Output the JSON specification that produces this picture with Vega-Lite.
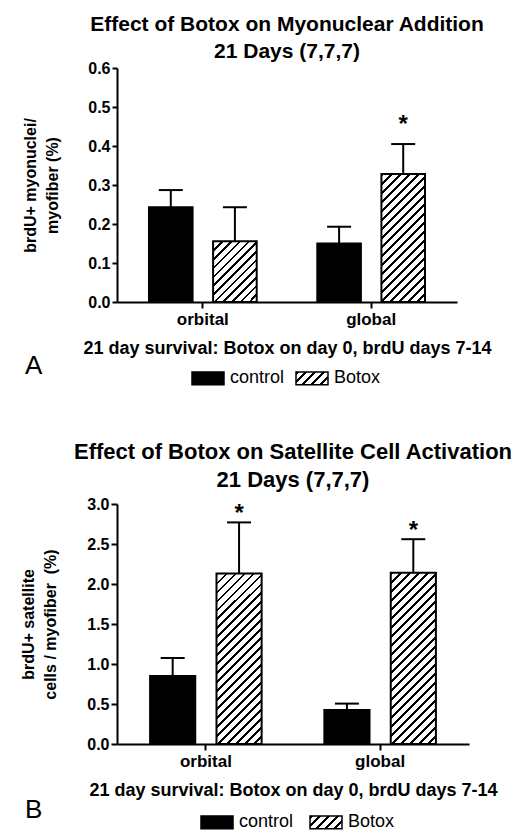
{
  "$schema": "https://vega.github.io/schema/vega-lite/v6.json",
  "background": "white",
  "padding": {"left": 20, "top": 14, "right": 5, "bottom": 5},
  "spacing": 53,
  "columns": 1,
  "align": "none",
  "datasets": {
    "a": [
      {"cat": "orbital", "group": "control", "mean": 0.243, "upper": 0.287, "sig": ""},
      {"cat": "orbital", "group": "Botox", "mean": 0.156, "upper": 0.243, "sig": ""},
      {"cat": "global", "group": "control", "mean": 0.150, "upper": 0.193, "sig": ""},
      {"cat": "global", "group": "Botox", "mean": 0.328, "upper": 0.405, "sig": "*"}
    ],
    "b": [
      {"cat": "orbital", "group": "control", "mean": 0.85, "upper": 1.075, "sig": ""},
      {"cat": "orbital", "group": "Botox", "mean": 2.13, "upper": 2.77, "sig": "*"},
      {"cat": "global", "group": "control", "mean": 0.425, "upper": 0.505, "sig": ""},
      {"cat": "global", "group": "Botox", "mean": 2.14, "upper": 2.56, "sig": "*"}
    ]
  },
  "resolve": {
    "scale": {"color": "independent", "x": "independent", "y": "independent", "xOffset": "independent"},
    "legend": {"color": "independent"}
  },
  "concat": [
    {
      "data": {"name": "a"},
      "width": 340,
      "height": 234,
      "title": {"text": ["Effect of Botox on Myonuclear Addition", "21 Days (7,7,7)"], "offset": -2},
      "encoding": {
        "x": {"field": "cat", "type": "nominal", "scale": {"domain": ["orbital", "global"], "paddingInner": 0.36, "paddingOuter": 0.19}, "axis": {"title": "21 day survival: Botox on day 0, brdU days 7-14", "labelAngle": 0}},
        "xOffset": {"field": "group", "type": "nominal", "scale": {"domain": ["control", "Botox"], "paddingInner": 0.32, "paddingOuter": 0}}
      },
      "layer": [
        {
          "transform": [{"filter": "datum.group === 'control'"}],
          "mark": {"type": "bar", "stroke": "black", "strokeWidth": 2},
          "encoding": {
            "y": {"field": "mean", "type": "quantitative", "scale": {"domain": [0, 0.6], "nice": false}, "axis": {"values": [0, 0.1, 0.2, 0.3, 0.4, 0.5, 0.6], "tickCount": 10, "format": ".1f", "labelOverlap": false, "titlePadding": 27, "title": ["brdU+ myonuclei/", "myofiber (%)"]}},
            "color": {"field": "group", "type": "nominal", "scale": {"domain": ["control", "Botox"], "range": ["black", {"expr": "{gradient: 'linear', x1: 0, y1: 0, x2: 1.2069, y2: 0.4828, stops: [{offset: 0, color: '#000'}, {offset: 0.07, color: '#000'}, {offset: 0.07, color: '#fff'}, {offset: 0.2, color: '#fff'}, {offset: 0.2, color: '#000'}, {offset: 0.27, color: '#000'}, {offset: 0.27, color: '#fff'}, {offset: 0.4, color: '#fff'}, {offset: 0.4, color: '#000'}, {offset: 0.47, color: '#000'}, {offset: 0.47, color: '#fff'}, {offset: 0.6, color: '#fff'}, {offset: 0.6, color: '#000'}, {offset: 0.67, color: '#000'}, {offset: 0.67, color: '#fff'}, {offset: 0.8, color: '#fff'}, {offset: 0.8, color: '#000'}, {offset: 0.87, color: '#000'}, {offset: 0.87, color: '#fff'}, {offset: 1, color: '#fff'}]}"}]},
              "legend": {"title": "A", "legendX": -92, "legendY": 293, "titlePadding": 148, "columnPadding": 8,
                "encode": {"symbols": {"stroke": {"value": "black"}, "strokeWidth": {"value": 1.5}}}}}
          }
        },
        {
          "transform": [{"filter": "datum.group === 'Botox' && datum.cat === 'orbital'"}],
          "mark": {"type": "bar", "stroke": "black", "strokeWidth": 2, "fill": {"gradient": "linear", "x1": 0, "y1": 0, "x2": 0.813, "y2": 1.134, "stops": [
            {"offset": 0, "color": "#000"}, {"offset": 0.025, "color": "#000"}, {"offset": 0.025, "color": "#fff"}, {"offset": 0.0833, "color": "#fff"},
            {"offset": 0.0833, "color": "#000"}, {"offset": 0.1083, "color": "#000"}, {"offset": 0.1083, "color": "#fff"}, {"offset": 0.1667, "color": "#fff"},
            {"offset": 0.1667, "color": "#000"}, {"offset": 0.1917, "color": "#000"}, {"offset": 0.1917, "color": "#fff"}, {"offset": 0.25, "color": "#fff"},
            {"offset": 0.25, "color": "#000"}, {"offset": 0.275, "color": "#000"}, {"offset": 0.275, "color": "#fff"}, {"offset": 0.3333, "color": "#fff"},
            {"offset": 0.3333, "color": "#000"}, {"offset": 0.3583, "color": "#000"}, {"offset": 0.3583, "color": "#fff"}, {"offset": 0.4167, "color": "#fff"},
            {"offset": 0.4167, "color": "#000"}, {"offset": 0.4417, "color": "#000"}, {"offset": 0.4417, "color": "#fff"}, {"offset": 0.5, "color": "#fff"},
            {"offset": 0.5, "color": "#000"}, {"offset": 0.525, "color": "#000"}, {"offset": 0.525, "color": "#fff"}, {"offset": 0.5833, "color": "#fff"},
            {"offset": 0.5833, "color": "#000"}, {"offset": 0.6083, "color": "#000"}, {"offset": 0.6083, "color": "#fff"}, {"offset": 0.6667, "color": "#fff"},
            {"offset": 0.6667, "color": "#000"}, {"offset": 0.6917, "color": "#000"}, {"offset": 0.6917, "color": "#fff"}, {"offset": 0.75, "color": "#fff"},
            {"offset": 0.75, "color": "#000"}, {"offset": 0.775, "color": "#000"}, {"offset": 0.775, "color": "#fff"}, {"offset": 0.8333, "color": "#fff"},
            {"offset": 0.8333, "color": "#000"}, {"offset": 0.8583, "color": "#000"}, {"offset": 0.8583, "color": "#fff"}, {"offset": 0.9167, "color": "#fff"},
            {"offset": 0.9167, "color": "#000"}, {"offset": 0.9417, "color": "#000"}, {"offset": 0.9417, "color": "#fff"}, {"offset": 1, "color": "#fff"}]}},
          "encoding": {"y": {"field": "mean", "type": "quantitative"}}
        },
        {
          "transform": [{"filter": "datum.group === 'Botox' && datum.cat === 'global'"}],
          "mark": {"type": "bar", "stroke": "black", "strokeWidth": 2, "fill": {"gradient": "linear", "x1": 0, "y1": 0, "x2": 0.4096, "y2": 1.201, "stops": [
            {"offset": 0, "color": "#000"}, {"offset": 0.0158, "color": "#000"}, {"offset": 0.0158, "color": "#fff"}, {"offset": 0.0526, "color": "#fff"},
            {"offset": 0.0526, "color": "#000"}, {"offset": 0.0684, "color": "#000"}, {"offset": 0.0684, "color": "#fff"}, {"offset": 0.1053, "color": "#fff"},
            {"offset": 0.1053, "color": "#000"}, {"offset": 0.1211, "color": "#000"}, {"offset": 0.1211, "color": "#fff"}, {"offset": 0.1579, "color": "#fff"},
            {"offset": 0.1579, "color": "#000"}, {"offset": 0.1737, "color": "#000"}, {"offset": 0.1737, "color": "#fff"}, {"offset": 0.2105, "color": "#fff"},
            {"offset": 0.2105, "color": "#000"}, {"offset": 0.2263, "color": "#000"}, {"offset": 0.2263, "color": "#fff"}, {"offset": 0.2632, "color": "#fff"},
            {"offset": 0.2632, "color": "#000"}, {"offset": 0.2789, "color": "#000"}, {"offset": 0.2789, "color": "#fff"}, {"offset": 0.3158, "color": "#fff"},
            {"offset": 0.3158, "color": "#000"}, {"offset": 0.3316, "color": "#000"}, {"offset": 0.3316, "color": "#fff"}, {"offset": 0.3684, "color": "#fff"},
            {"offset": 0.3684, "color": "#000"}, {"offset": 0.3842, "color": "#000"}, {"offset": 0.3842, "color": "#fff"}, {"offset": 0.4211, "color": "#fff"},
            {"offset": 0.4211, "color": "#000"}, {"offset": 0.4368, "color": "#000"}, {"offset": 0.4368, "color": "#fff"}, {"offset": 0.4737, "color": "#fff"},
            {"offset": 0.4737, "color": "#000"}, {"offset": 0.4895, "color": "#000"}, {"offset": 0.4895, "color": "#fff"}, {"offset": 0.5263, "color": "#fff"},
            {"offset": 0.5263, "color": "#000"}, {"offset": 0.5421, "color": "#000"}, {"offset": 0.5421, "color": "#fff"}, {"offset": 0.5789, "color": "#fff"},
            {"offset": 0.5789, "color": "#000"}, {"offset": 0.5947, "color": "#000"}, {"offset": 0.5947, "color": "#fff"}, {"offset": 0.6316, "color": "#fff"},
            {"offset": 0.6316, "color": "#000"}, {"offset": 0.6474, "color": "#000"}, {"offset": 0.6474, "color": "#fff"}, {"offset": 0.6842, "color": "#fff"},
            {"offset": 0.6842, "color": "#000"}, {"offset": 0.7, "color": "#000"}, {"offset": 0.7, "color": "#fff"}, {"offset": 0.7368, "color": "#fff"},
            {"offset": 0.7368, "color": "#000"}, {"offset": 0.7526, "color": "#000"}, {"offset": 0.7526, "color": "#fff"}, {"offset": 0.7895, "color": "#fff"},
            {"offset": 0.7895, "color": "#000"}, {"offset": 0.8053, "color": "#000"}, {"offset": 0.8053, "color": "#fff"}, {"offset": 0.8421, "color": "#fff"},
            {"offset": 0.8421, "color": "#000"}, {"offset": 0.8579, "color": "#000"}, {"offset": 0.8579, "color": "#fff"}, {"offset": 0.8947, "color": "#fff"},
            {"offset": 0.8947, "color": "#000"}, {"offset": 0.9105, "color": "#000"}, {"offset": 0.9105, "color": "#fff"}, {"offset": 0.9474, "color": "#fff"},
            {"offset": 0.9474, "color": "#000"}, {"offset": 0.9632, "color": "#000"}, {"offset": 0.9632, "color": "#fff"}, {"offset": 1, "color": "#fff"}]}},
          "encoding": {"y": {"field": "mean", "type": "quantitative"}}
        },
        {
          "mark": {"type": "rule", "color": "black", "strokeWidth": 2},
          "encoding": {"y": {"field": "mean", "type": "quantitative"}, "y2": {"field": "upper"}}
        },
        {
          "mark": {"type": "tick", "color": "black", "thickness": 2, "size": 24, "opacity": 1},
          "encoding": {"y": {"field": "upper", "type": "quantitative"}}
        },
        {
          "mark": {"type": "text", "fontSize": 24, "fontWeight": "bold", "baseline": "bottom", "dy": -7, "color": "black", "font": "Liberation Sans"},
          "encoding": {"y": {"field": "upper", "type": "quantitative"}, "text": {"field": "sig"}}
        }
      ]
    },
    {
      "data": {"name": "b"},
      "width": 352,
      "height": 240,
      "title": {"text": ["Effect of Botox on Satellite Cell Activation", "21 Days (7,7,7)"], "fontSize": 22, "lineHeight": 28, "offset": 4},
      "encoding": {
        "x": {"field": "cat", "type": "nominal", "scale": {"domain": ["orbital", "global"], "paddingInner": 0.36, "paddingOuter": 0.19}, "axis": {"title": "21 day survival: Botox on day 0, brdU days 7-14", "labelAngle": 0}},
        "xOffset": {"field": "group", "type": "nominal", "scale": {"domain": ["control", "Botox"], "paddingInner": 0.32, "paddingOuter": 0}}
      },
      "layer": [
        {
          "transform": [{"filter": "datum.group === 'control'"}],
          "mark": {"type": "bar", "stroke": "black", "strokeWidth": 2},
          "encoding": {
            "y": {"field": "mean", "type": "quantitative", "scale": {"domain": [0, 3], "nice": false}, "axis": {"values": [0, 0.5, 1, 1.5, 2, 2.5, 3], "tickCount": 10, "format": ".1f", "labelOverlap": false, "tickSize": 6, "titlePadding": 28, "title": ["brdU+ satellite", "cells / myofiber \u00a0(%)"]}},
            "color": {"field": "group", "type": "nominal", "scale": {"domain": ["control", "Botox"], "range": ["black", {"expr": "{gradient: 'linear', x1: 0, y1: 0, x2: 1.2069, y2: 0.4828, stops: [{offset: 0, color: '#000'}, {offset: 0.07, color: '#000'}, {offset: 0.07, color: '#fff'}, {offset: 0.2, color: '#fff'}, {offset: 0.2, color: '#000'}, {offset: 0.27, color: '#000'}, {offset: 0.27, color: '#fff'}, {offset: 0.4, color: '#fff'}, {offset: 0.4, color: '#000'}, {offset: 0.47, color: '#000'}, {offset: 0.47, color: '#fff'}, {offset: 0.6, color: '#fff'}, {offset: 0.6, color: '#000'}, {offset: 0.67, color: '#000'}, {offset: 0.67, color: '#fff'}, {offset: 0.8, color: '#fff'}, {offset: 0.8, color: '#000'}, {offset: 0.87, color: '#000'}, {offset: 0.87, color: '#fff'}, {offset: 1, color: '#fff'}]}"}]},
              "legend": {"title": "B", "legendX": -92, "legendY": 301, "titlePadding": 157, "columnPadding": 13,
                "encode": {"symbols": {"stroke": {"value": "black"}, "strokeWidth": {"value": 1.5}}}}}
          }
        },
        {
          "transform": [{"filter": "datum.group === 'Botox'"}],
          "mark": {"type": "bar", "stroke": "black", "strokeWidth": 2, "fill": {"gradient": "linear", "x1": 0, "y1": 0, "x2": 0.3128, "y2": 1.1819, "stops": [
            {"offset": 0, "color": "#000"}, {"offset": 0.0125, "color": "#000"}, {"offset": 0.0125, "color": "#fff"}, {"offset": 0.0417, "color": "#fff"},
            {"offset": 0.0417, "color": "#000"}, {"offset": 0.0542, "color": "#000"}, {"offset": 0.0542, "color": "#fff"}, {"offset": 0.0833, "color": "#fff"},
            {"offset": 0.0833, "color": "#000"}, {"offset": 0.0958, "color": "#000"}, {"offset": 0.0958, "color": "#fff"}, {"offset": 0.125, "color": "#fff"},
            {"offset": 0.125, "color": "#000"}, {"offset": 0.1375, "color": "#000"}, {"offset": 0.1375, "color": "#fff"}, {"offset": 0.1667, "color": "#fff"},
            {"offset": 0.1667, "color": "#000"}, {"offset": 0.1792, "color": "#000"}, {"offset": 0.1792, "color": "#fff"}, {"offset": 0.2083, "color": "#fff"},
            {"offset": 0.2083, "color": "#000"}, {"offset": 0.2208, "color": "#000"}, {"offset": 0.2208, "color": "#fff"}, {"offset": 0.25, "color": "#fff"},
            {"offset": 0.25, "color": "#000"}, {"offset": 0.2625, "color": "#000"}, {"offset": 0.2625, "color": "#fff"}, {"offset": 0.2917, "color": "#fff"},
            {"offset": 0.2917, "color": "#000"}, {"offset": 0.3042, "color": "#000"}, {"offset": 0.3042, "color": "#fff"}, {"offset": 0.3333, "color": "#fff"},
            {"offset": 0.3333, "color": "#000"}, {"offset": 0.3458, "color": "#000"}, {"offset": 0.3458, "color": "#fff"}, {"offset": 0.375, "color": "#fff"},
            {"offset": 0.375, "color": "#000"}, {"offset": 0.3875, "color": "#000"}, {"offset": 0.3875, "color": "#fff"}, {"offset": 0.4167, "color": "#fff"},
            {"offset": 0.4167, "color": "#000"}, {"offset": 0.4292, "color": "#000"}, {"offset": 0.4292, "color": "#fff"}, {"offset": 0.4583, "color": "#fff"},
            {"offset": 0.4583, "color": "#000"}, {"offset": 0.4708, "color": "#000"}, {"offset": 0.4708, "color": "#fff"}, {"offset": 0.5, "color": "#fff"},
            {"offset": 0.5, "color": "#000"}, {"offset": 0.5125, "color": "#000"}, {"offset": 0.5125, "color": "#fff"}, {"offset": 0.5417, "color": "#fff"},
            {"offset": 0.5417, "color": "#000"}, {"offset": 0.5542, "color": "#000"}, {"offset": 0.5542, "color": "#fff"}, {"offset": 0.5833, "color": "#fff"},
            {"offset": 0.5833, "color": "#000"}, {"offset": 0.5958, "color": "#000"}, {"offset": 0.5958, "color": "#fff"}, {"offset": 0.625, "color": "#fff"},
            {"offset": 0.625, "color": "#000"}, {"offset": 0.6375, "color": "#000"}, {"offset": 0.6375, "color": "#fff"}, {"offset": 0.6667, "color": "#fff"},
            {"offset": 0.6667, "color": "#000"}, {"offset": 0.6792, "color": "#000"}, {"offset": 0.6792, "color": "#fff"}, {"offset": 0.7083, "color": "#fff"},
            {"offset": 0.7083, "color": "#000"}, {"offset": 0.7208, "color": "#000"}, {"offset": 0.7208, "color": "#fff"}, {"offset": 0.75, "color": "#fff"},
            {"offset": 0.75, "color": "#000"}, {"offset": 0.7625, "color": "#000"}, {"offset": 0.7625, "color": "#fff"}, {"offset": 0.7917, "color": "#fff"},
            {"offset": 0.7917, "color": "#000"}, {"offset": 0.8042, "color": "#000"}, {"offset": 0.8042, "color": "#fff"}, {"offset": 0.8333, "color": "#fff"},
            {"offset": 0.8333, "color": "#000"}, {"offset": 0.8458, "color": "#000"}, {"offset": 0.8458, "color": "#fff"}, {"offset": 0.875, "color": "#fff"},
            {"offset": 0.875, "color": "#000"}, {"offset": 0.8875, "color": "#000"}, {"offset": 0.8875, "color": "#fff"}, {"offset": 0.9167, "color": "#fff"},
            {"offset": 0.9167, "color": "#000"}, {"offset": 0.9292, "color": "#000"}, {"offset": 0.9292, "color": "#fff"}, {"offset": 0.9583, "color": "#fff"},
            {"offset": 0.9583, "color": "#000"}, {"offset": 0.9708, "color": "#000"}, {"offset": 0.9708, "color": "#fff"}, {"offset": 1, "color": "#fff"}]}},
          "encoding": {"y": {"field": "mean", "type": "quantitative"}}
        },
        {
          "mark": {"type": "rule", "color": "black", "strokeWidth": 2},
          "encoding": {"y": {"field": "mean", "type": "quantitative"}, "y2": {"field": "upper"}}
        },
        {
          "mark": {"type": "tick", "color": "black", "thickness": 2, "size": 24, "opacity": 1},
          "encoding": {"y": {"field": "upper", "type": "quantitative"}}
        },
        {
          "mark": {"type": "text", "fontSize": 24, "fontWeight": "bold", "baseline": "bottom", "dy": 4, "color": "black", "font": "Liberation Sans"},
          "encoding": {"y": {"field": "upper", "type": "quantitative"}, "text": {"field": "sig"}}
        }
      ]
    }
  ],
  "config": {
    "view": {"stroke": null},
    "font": "Liberation Sans",
    "title": {"font": "Liberation Sans", "fontSize": 21, "fontWeight": "bold", "color": "black", "lineHeight": 27, "anchor": "middle"},
    "axis": {"domainColor": "black", "domainWidth": 2, "tickColor": "black", "tickWidth": 2, "labelColor": "black", "titleColor": "black", "labelFont": "Liberation Sans", "titleFont": "Liberation Sans", "labelFontWeight": "bold", "titleFontWeight": "bold", "grid": false, "labelOverlap": false},
    "axisY": {"tickSize": 5, "labelFontSize": 16, "labelPadding": 2, "titleFontSize": 16, "titleLineHeight": 22},
    "axisX": {"tickSize": 6, "labelFontSize": 17, "labelPadding": 3, "titleFontSize": 18, "titlePadding": 12},
    "legend": {"orient": "none", "direction": "horizontal", "titleOrient": "left", "titleAnchor": "middle", "titleBaseline": "alphabetic", "labelFont": "Liberation Sans", "labelFontSize": 18, "labelColor": "black", "titleFont": "Liberation Sans", "titleFontSize": 26, "titleFontWeight": "normal", "titleColor": "black", "symbolType": "M-1,-0.4H1V0.4H-1Z", "symbolSize": 1024, "labelOffset": 5, "padding": 0}
  }
}
